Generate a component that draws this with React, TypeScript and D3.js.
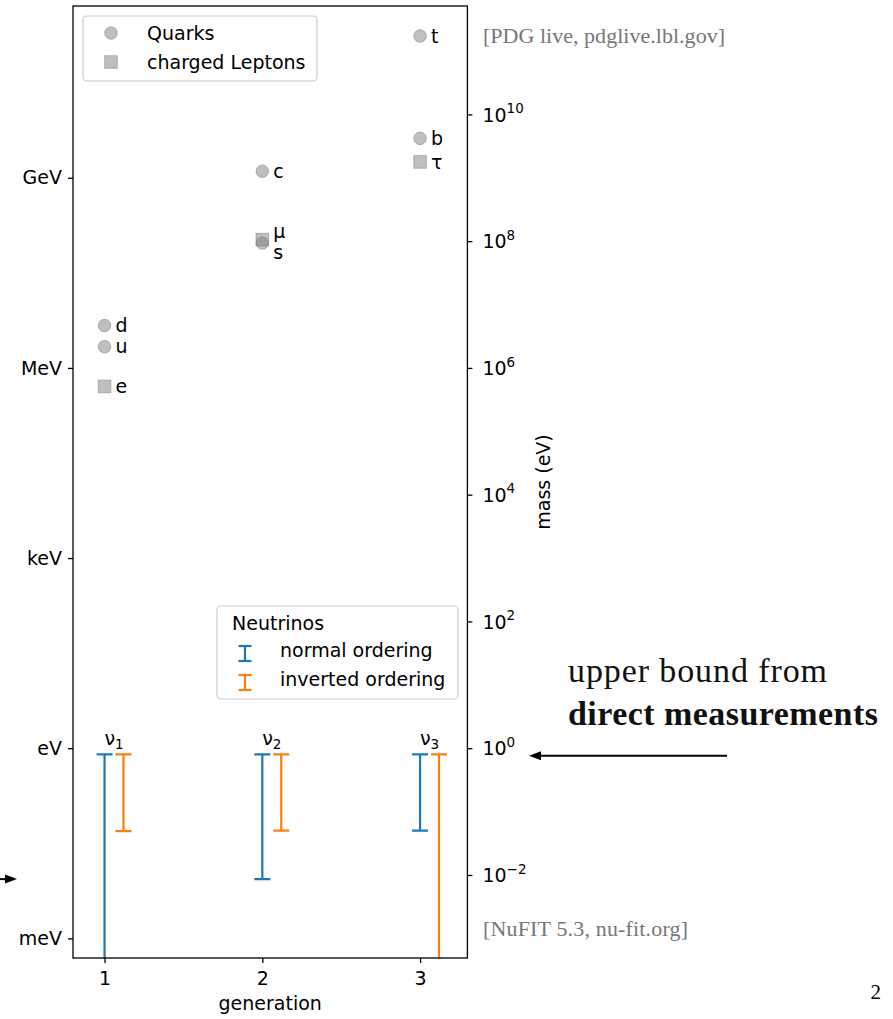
import React, { useRef, useEffect } from 'react';
import * as d3 from 'd3';

// masses in eV (PDG)
const quarkNames = ['u', 'd', 'c', 's', 't', 'b'];
const quarkGen = [1, 1, 2, 2, 3, 3];
const quarkMass = [2.16e6, 4.67e6, 1.27e9, 93.4e6, 172.69e9, 4.18e9];

const leptonNames = ['e', 'μ', 'τ'];
const leptonGen = [1, 2, 3];
const leptonMass = [0.511e6, 105.66e6, 1776.86e6];

// neutrino mass ranges (eV), 0 = no lower bound
const nuGen = [1, 2, 3];
const nuUpper = [0.8, 0.8, 0.8];
const nuNormalLow = [0, 0.0086, 0.0501];
const nuInvertedLow = [0.0492, 0.0500, 0];

const unitTicks = [1e9, 1e6, 1e3, 1, 1e-3];
const unitLabels = ['GeV', 'MeV', 'keV', 'eV', 'meV'];
const powerTicks = [-2, 0, 2, 4, 6, 8, 10];
const genTicks = [1, 2, 3];

const labelShift: Record<string, number> = { 'μ': -8, s: 9 };

const BLUE = '#1f77b4';
const ORANGE = '#ff7f0e';
const SANS = 'DejaVu Sans';
const SERIF = 'Liberation Serif';

const left = 73, right = 467.4, top = 6, bottom = 958;

const App = () => {
  const leftRef = useRef<SVGGElement>(null);
  const rightRef = useRef<SVGGElement>(null);
  const bottomRef = useRef<SVGGElement>(null);

  const x = d3.scaleLinear().domain([0.8, 3.3]).range([left, right]);
  const y = d3.scaleLog().domain([10 ** -3.31, 10 ** 11.71]).range([bottom, top]);
  const yMin = y.domain()[0];
  const off = 0.12;

  useEffect(() => {
    const styleAxis = (g: any) => {
      g.select('.domain').remove();
      g.selectAll('.tick line').attr('stroke', '#000').attr('stroke-width', 1.3);
      g.selectAll('.tick text').attr('fill', '#000').attr('font-size', 19).attr('font-family', SANS);
    };

    const gl = d3.select(leftRef.current);
    gl.call(d3.axisLeft(y).tickValues(unitTicks)
      .tickFormat((d, i) => unitLabels[i]).tickSizeInner(5).tickSizeOuter(0).tickPadding(6) as any);
    styleAxis(gl);

    const gr = d3.select(rightRef.current);
    gr.call(d3.axisRight(y).tickValues(powerTicks.map(p => 10 ** p))
      .tickFormat(() => '').tickSizeInner(5).tickSizeOuter(0).tickPadding(10) as any);
    styleAxis(gr);
    gr.selectAll('.tick text').each(function (d: any) {
      const p = Math.round(Math.log10(d));
      const t = d3.select(this);
      t.text(null).attr('dy', '0.35em');
      t.append('tspan').text('10');
      t.append('tspan').attr('dy', -8.5).attr('font-size', 13.5)
        .text(p < 0 ? '−' + Math.abs(p) : String(p));
    });

    const gb = d3.select(bottomRef.current);
    gb.call(d3.axisBottom(x).tickValues(genTicks)
      .tickFormat(d3.format('d') as any).tickSizeInner(5).tickSizeOuter(0).tickPadding(9) as any);
    styleAxis(gb);
  }, []);

  const cy = (v: number) => y(Math.max(v, yMin));

  const errBar = (g: number, lo: number, hi: number, color: string, key: string) => (
    <g key={key} stroke={color} strokeWidth={2.2}>
      <line x1={x(g)} x2={x(g)} y1={cy(hi)} y2={cy(lo)} />
      <line x1={x(g) - 8} x2={x(g) + 8} y1={cy(hi)} y2={cy(hi)} />
      {lo > 0 && <line x1={x(g) - 8} x2={x(g) + 8} y1={cy(lo)} y2={cy(lo)} />}
    </g>
  );

  const legendBar = (cx: number, y0: number, color: string) => (
    <g stroke={color} strokeWidth={2.2}>
      <line x1={cx} x2={cx} y1={y0} y2={y0 + 15} />
      <line x1={cx - 6.5} x2={cx + 6.5} y1={y0} y2={y0} />
      <line x1={cx - 6.5} x2={cx + 6.5} y1={y0 + 15} y2={y0 + 15} />
    </g>
  );

  const markFill = 'rgba(128,128,128,0.5)';
  const arrowY = y(nuUpper[0]) + 1.5;
  const lowArrowY = y(nuNormalLow[1]);

  return (
    <svg width={893} height={1019} style={{ position: 'absolute', left: 0, top: 0, background: '#fff' }}
      fontFamily={SANS}>
      <defs>
        <clipPath id="plot">
          <rect x={left} y={top} width={right - left} height={bottom - top} />
        </clipPath>
      </defs>

      <g clipPath="url(#plot)">
        {quarkMass.map((m, i) => (
          <circle key={'q' + i} cx={x(quarkGen[i])} cy={y(m)} r={6.3}
            fill={markFill} stroke={markFill} strokeWidth={1} />
        ))}
        {leptonMass.map((m, i) => (
          <rect key={'l' + i} x={x(leptonGen[i]) - 6.3} y={y(m) - 6.3} width={12.6} height={12.6}
            fill={markFill} stroke={markFill} strokeWidth={1} />
        ))}
        {nuGen.map((g, i) => errBar(g, nuNormalLow[i], nuUpper[i], BLUE, 'n' + i))}
        {nuGen.map((g, i) => errBar(g + off, nuInvertedLow[i], nuUpper[i], ORANGE, 'o' + i))}
      </g>

      {quarkMass.map((m, i) => (
        <text key={'qt' + i} x={x(quarkGen[i]) + 11} y={y(m) + (labelShift[quarkNames[i]] || 0)}
          dy="0.35em" fontSize={19}>{quarkNames[i]}</text>
      ))}
      {leptonMass.map((m, i) => (
        <text key={'lt' + i} x={x(leptonGen[i]) + 11} y={y(m) + (labelShift[leptonNames[i]] || 0)}
          dy="0.35em" fontSize={19}>{leptonNames[i]}</text>
      ))}
      {nuGen.map((g, i) => (
        <text key={'nt' + i} x={x(g + off / 2)} y={y(nuUpper[i]) - 9} textAnchor="middle" fontSize={19}>
          ν<tspan dy={4} fontSize={13.5}>{i + 1}</tspan>
        </text>
      ))}

      <rect x={left} y={top} width={right - left} height={bottom - top} fill="none" stroke="#000" strokeWidth={1.3} />

      <g ref={leftRef} transform={`translate(${left},0)`} />
      <g ref={rightRef} transform={`translate(${right},0)`} />
      <g ref={bottomRef} transform={`translate(0,${bottom})`} />

      <text x={(left + right) / 2} y={1010} textAnchor="middle" fontSize={19}>generation</text>
      <text transform={`translate(550,${(top + bottom) / 2}) rotate(-90)`} textAnchor="middle" fontSize={19}>mass (eV)</text>

      {/* legend: quarks / leptons */}
      <rect x={83} y={16} width={234} height={65} rx={4} fill="rgba(255,255,255,0.8)" stroke="#cccccc" strokeWidth={1.2} />
      <circle cx={111} cy={33} r={6.3} fill={markFill} stroke={markFill} />
      <rect x={104.7} y={55.7} width={12.6} height={12.6} fill={markFill} stroke={markFill} />
      <text x={147} y={40} fontSize={19}>Quarks</text>
      <text x={147} y={69} fontSize={19}>charged Leptons</text>

      {/* legend: neutrinos */}
      <rect x={217} y={606} width={241} height={93} rx={4} fill="rgba(255,255,255,0.8)" stroke="#cccccc" strokeWidth={1.2} />
      <text x={232} y={630} fontSize={19}>Neutrinos</text>
      {legendBar(245, 646, BLUE)}
      {legendBar(245, 675, ORANGE)}
      <text x={280} y={657} fontSize={19}>normal ordering</text>
      <text x={280} y={686} fontSize={19}>inverted ordering</text>

      {/* annotations */}
      <text x={483} y={43} fontFamily={SERIF} fontSize={22} fill="#777" textLength={242}>[PDG live, pdglive.lbl.gov]</text>
      <text x={483} y={936} fontFamily={SERIF} fontSize={22} fill="#777" textLength={205}>[NuFIT 5.3, nu-fit.org]</text>
      <text x={568} y={682} fontFamily={SERIF} fontSize={34} fill="#111" textLength={259}>upper bound from</text>
      <text x={568} y={725} fontFamily={SERIF} fontSize={34} fontWeight="bold" fill="#111" textLength={310}>direct measurements</text>
      <text x={881} y={999} fontFamily={SERIF} fontSize={21} textAnchor="end">2</text>

      <line x1={727} x2={538} y1={arrowY} y2={arrowY} stroke="#000" strokeWidth={2} />
      <polygon points={`529,${arrowY} 541,${arrowY - 4.5} 541,${arrowY + 4.5}`} fill="#000" />
      <line x1={-5} x2={8} y1={lowArrowY} y2={lowArrowY} stroke="#000" strokeWidth={2} />
      <polygon points={`17,${lowArrowY} 5,${lowArrowY - 4.5} 5,${lowArrowY + 4.5}`} fill="#000" />
    </svg>
  );
};

export default App;
